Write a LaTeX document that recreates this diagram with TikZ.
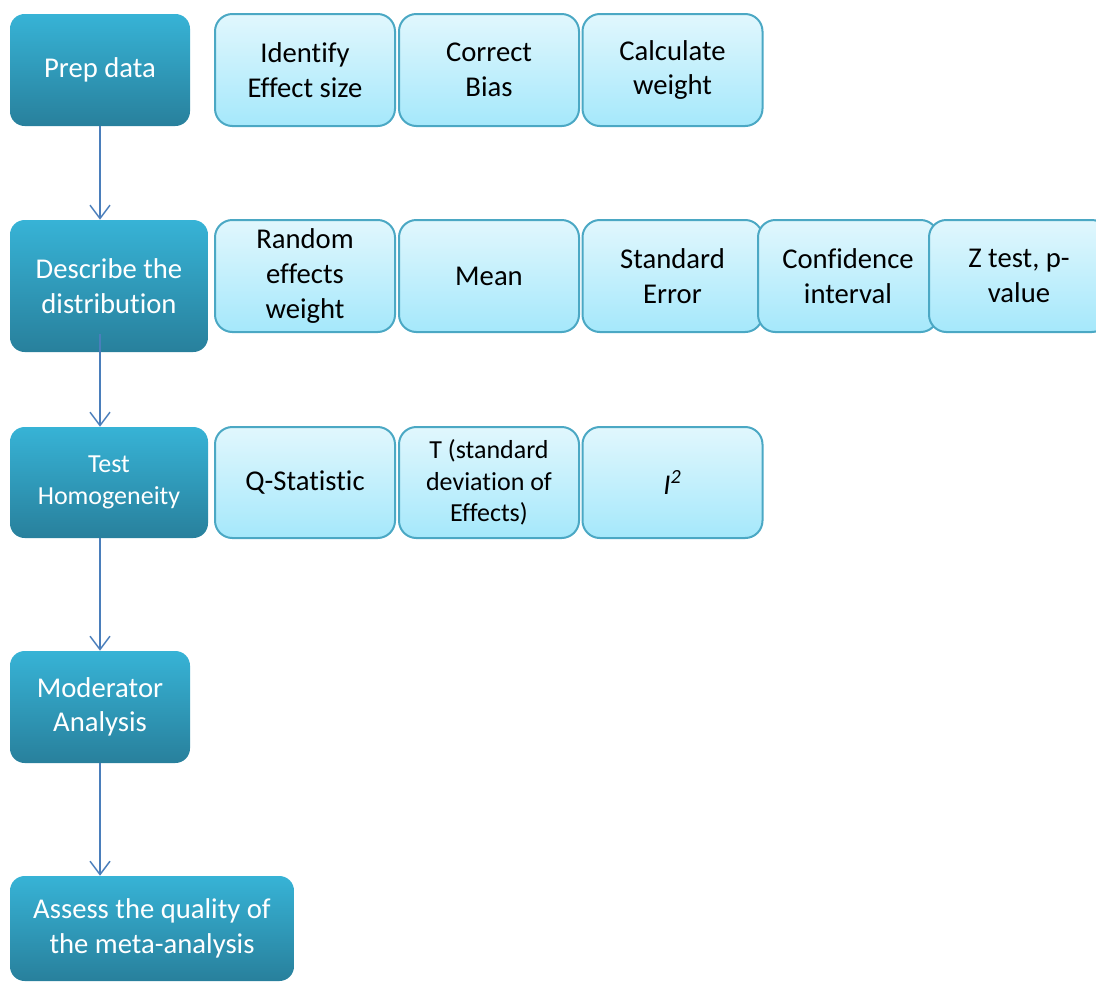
\documentclass[tikz,border=0pt]{standalone}
\usepackage{fontspec}
\setmainfont{Carlito}[Ligatures=NoCommon]
\usetikzlibrary{arrows.meta}
\definecolor{stagetop}{RGB}{55,179,214}
\definecolor{stagebot}{RGB}{40,128,156}
\definecolor{itemtop}{RGB}{225,247,253}
\definecolor{itembot}{RGB}{165,232,251}
\definecolor{itemline}{RGB}{75,168,196}
\definecolor{flowline}{RGB}{74,126,187}
\tikzset{
  stage/.style={rounded corners=11pt, top color=stagetop, bottom color=stagebot,
    text=white, align=center, inner sep=0pt, font=\fontsize{21.5}{26}\selectfont},
  item/.style={rounded corners=13pt, draw=itemline, line width=1.5pt, top color=itemtop,
    bottom color=itembot, align=center, inner sep=0pt, minimum width=135pt,
    minimum height=84pt, font=\fontsize{21.5}{26}\selectfont},
  small/.style={font=\fontsize{19.5}{23.5}\selectfont},
  flow/.style={draw=flowline, line width=1.1pt, -{Straight Barb[length=10pt,width=15pt]}}
}
\begin{document}
\begin{tikzpicture}[x=0.75pt,y=-0.75pt]
\useasboundingbox (0,0) rectangle (1096,983);
\clip (0,0) rectangle (1096,983);
\node[stage, minimum width=135pt, minimum height=84pt] (prep) at (100,70) {Prep data};
\node[stage, minimum width=148.5pt, minimum height=99pt] (describe) at (109,286) {Describe the\\distribution};
\node[stage, small, minimum width=148.5pt, minimum height=83.25pt] (test) at (109,482.5) {Test\\Homogeneity};
\node[stage, minimum width=135pt, minimum height=84pt] (moderator) at (100,707) {Moderator\\Analysis};
\node[stage, minimum width=213pt, minimum height=78.75pt] (assess) at (152,928.5) {Assess the quality of\\the meta-analysis};
\node[item] (effect) at (305,70) {Identify\\Effect size};
\node[item] (bias) at (489,70) {Correct\\Bias};
\node[item] (weight) at (672.5,70) {Calculate\\weight};
\node[item] (random) at (305,276) {Random\\effects\\weight};
\node[item] (mean) at (489,276) {Mean};
\node[item] (stderr) at (672.5,276) {Standard\\Error};
\node[item] (confint) at (848,276) {Confidence\\interval};
\node[item] (ztest) at (1019,276) {Z test, p-\\value};
\node[item, minimum height=83.25pt] (qstat) at (305,482.5) {Q-Statistic};
\node[item, small, minimum height=83.25pt] (tau) at (489,482.5) {T (standard\\deviation of\\Effects)};
\node[item, minimum height=83.25pt] (isq) at (672.5,482.5) {\textit{I\textsuperscript{2}}};
\draw[flow] (prep.south) -- (prep.south |- describe.north);
\draw[flow] ([yshift=14pt]prep.south |- describe.south) -- (prep.south |- test.north);
\draw[flow] (prep.south |- test.south) -- (moderator.north);
\draw[flow] (moderator.south) -- (moderator.south |- assess.north);
\end{tikzpicture}
\end{document}
